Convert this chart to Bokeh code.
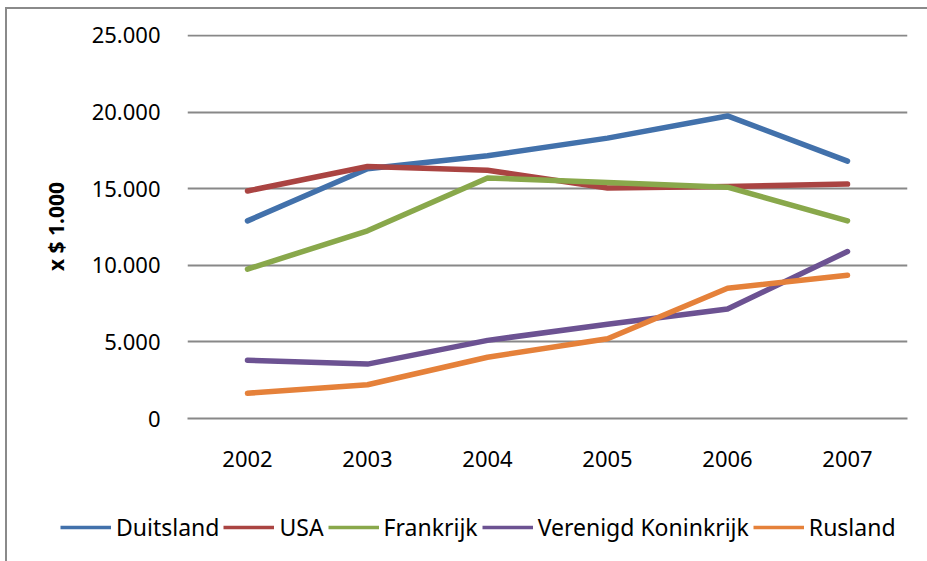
from bokeh.plotting import figure
from bokeh.models import FactorRange, Range1d, FixedTicker, Legend, LegendItem
from bokeh.layouts import column
from bokeh.embed import file_html
from bokeh.resources import INLINE

years = ["2002", "2003", "2004", "2005", "2006", "2007"]
duitsland = [12900, 16300, 17150, 18300, 19750, 16800]
usa = [14850, 16450, 16200, 15050, 15150, 15300]
frankrijk = [9750, 12250, 15700, 15400, 15100, 12900]
verenigd_koninkrijk = [3800, 3550, 5100, 6150, 7150, 10900]
rusland = [1650, 2200, 4000, 5200, 8500, 9350]

series_names = ["Duitsland", "USA", "Frankrijk", "Verenigd Koninkrijk", "Rusland"]
series_values = [duitsland, usa, frankrijk, verenigd_koninkrijk, rusland]
colors = ["#4271ab", "#aa4442", "#89a84b", "#6c5292", "#e5813a"]

y_ticks = [0, 5000, 10000, 15000, 20000, 25000]
y_tick_labels = ["0", "5.000", "10.000", "15.000", "20.000", "25.000"]

FONT = "Noto Sans"

p = figure(width=920, height=491, x_range=FactorRange(*years), y_range=Range1d(0, 25065),
           output_backend="svg", toolbar_location=None,
           min_border_left=180, min_border_right=20, min_border_top=25, min_border_bottom=82)
p.frame_align = False
p.outline_line_color = None
p.background_fill_color = "white"
p.border_fill_color = "white"

p.xgrid.grid_line_color = None
p.ygrid.grid_line_color = "#888888"
p.ygrid.grid_line_width = 2
p.ygrid.ticker = FixedTicker(ticks=y_ticks)

p.yaxis.ticker = FixedTicker(ticks=y_ticks)
p.yaxis.major_label_overrides = {t: l for t, l in zip(y_ticks, y_tick_labels)}
p.yaxis.axis_line_color = None
p.yaxis.major_tick_line_color = None
p.yaxis.minor_tick_line_color = None
p.yaxis.major_label_standoff = 21
p.yaxis.major_label_text_font = FONT
p.yaxis.major_label_text_font_size = "22px"
p.yaxis.major_label_text_color = "black"
p.yaxis.axis_label = "x $ 1.000"
p.yaxis.axis_label_text_font = FONT
p.yaxis.axis_label_text_font_style = "bold"
p.yaxis.axis_label_text_font_size = "21px"
p.yaxis.axis_label_text_color = "black"
p.yaxis.axis_label_standoff = 19

p.xaxis.axis_line_color = "#888888"
p.xaxis.axis_line_width = 2
p.xaxis.major_tick_line_color = None
p.xaxis.minor_tick_line_color = None
p.xaxis.major_label_standoff = 26
p.xaxis.major_label_text_font = FONT
p.xaxis.major_label_text_font_size = "22px"
p.xaxis.major_label_text_color = "black"

for vals, c in zip(series_values, colors):
    p.line(x=years, y=vals, line_color=c, line_width=5.5, line_cap="round", line_join="round")

# legend strip below the chart
lg = figure(width=920, height=61, output_backend="svg", toolbar_location=None,
            x_range=Range1d(0, 1), y_range=Range1d(0, 1),
            x_axis_type=None, y_axis_type=None,
            min_border_left=0, min_border_right=0, min_border_top=0, min_border_bottom=0)
lg.frame_align = False
lg.outline_line_color = None
lg.xgrid.grid_line_color = None
lg.ygrid.grid_line_color = None
lg.border_fill_color = "white"

items = []
for name, c in zip(series_names, colors):
    dummy = lg.line(x=[-5, -4], y=[-5, -4], line_color=c, line_width=3.5)
    items.append(LegendItem(label=name, renderers=[dummy]))

legend = Legend(items=items, orientation="horizontal", location=(53, 18))
legend.label_text_font = FONT
legend.label_text_font_size = "23px"
legend.label_text_color = "black"
legend.glyph_width = 51
legend.label_standoff = 5
legend.spacing = 4
legend.padding = 0
legend.margin = 0
legend.border_line_color = None
legend.background_fill_alpha = 0
lg.add_layout(legend, "center")

layout = column(p, lg, spacing=0,
                styles={"margin-left": "5px", "margin-top": "7px",
                        "border-left": "2px solid #8a8a8a", "border-top": "2px solid #8a8a8a"})

open("out.html", "w").write(file_html(layout, INLINE))
